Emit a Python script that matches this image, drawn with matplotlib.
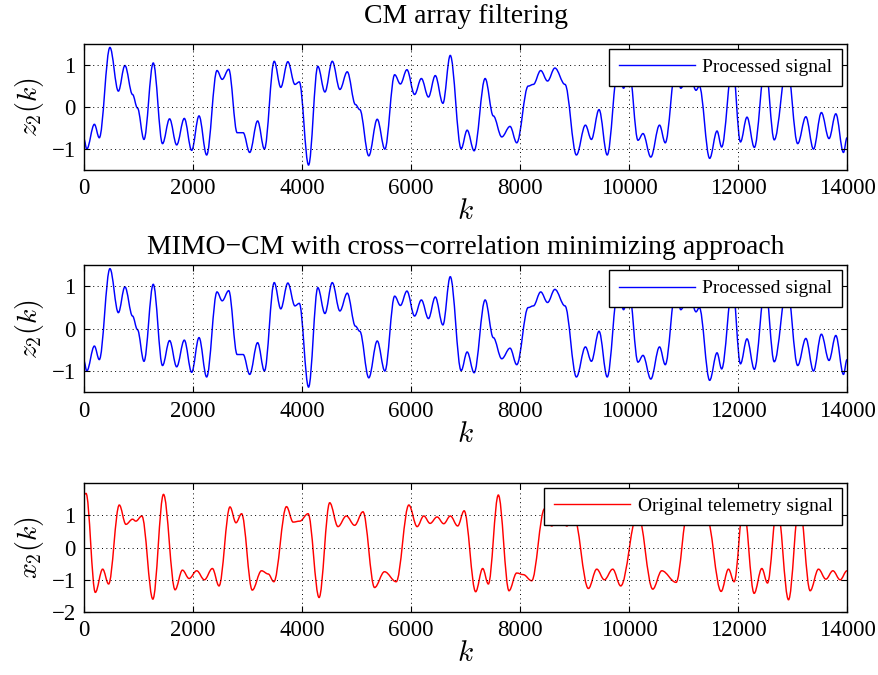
import numpy as np
import matplotlib
matplotlib.use("Agg")
import matplotlib.pyplot as plt
from matplotlib.path import Path
from matplotlib.patches import PathPatch
from matplotlib.lines import Line2D

plt.rcParams['font.family'] = ['Liberation Serif', 'DejaVu Serif']
plt.rcParams['mathtext.fontset'] = 'cm'
plt.rcParams['axes.unicode_minus'] = True

# values (extrema of the traces)
k_cm = [0, 50, 190, 280, 475, 630, 750, 890, 980, 1100,
        1270, 1440, 1570, 1700, 1840, 1975, 2110, 2250, 2440, 2535,
        2655, 2810, 2920, 3040, 3185, 3310, 3490, 3610, 3740, 3870,
        3950, 4120, 4290, 4420, 4555, 4695, 4830, 4980, 5060, 5225,
        5380, 5520, 5700, 5805, 5925, 6065, 6190, 6320, 6445, 6585,
        6720, 6920, 7030, 7158, 7360, 7510, 7665, 7817, 7940, 8150,
        8245, 8380, 8505, 8640, 8825, 9035, 9200, 9310, 9450, 9600,
        9800, 9900, 10000, 10165, 10257, 10400, 10560, 10665, 10860, 10950,
        11100, 11230, 11290, 11480, 11615, 11700, 11900, 12045, 12165, 12300,
        12500, 12665, 12900, 13095, 13245, 13385, 13530, 13670, 13795, 13935,
        14000]
z_cm = [-0.77, -1.0, -0.41, -0.73, 1.42, 0.38, 0.99, 0.30, -0.02, -0.77,
        1.05, -0.87, -0.28, -0.90, -0.27, -1.03, -0.21, -1.14, 0.87, 0.66,
        0.90, -0.61, -0.61, -1.08, -0.33, -1.0, 1.09, 0.47, 1.08, 0.54,
        0.60, -1.38, 0.97, 0.36, 1.09, 0.42, 0.84, 0.06, -0.06, -1.16,
        -0.29, -1.0, 0.77, 0.55, 0.89, 0.30, 0.68, 0.24, 0.75, 0.09,
        1.23, -0.99, -0.55, -1.04, 0.68, -0.21, -0.71, -0.46, -0.85, 0.50,
        0.54, 0.87, 0.62, 0.93, 0.54, -1.14, -0.43, -0.77, -0.06, -1.14,
        0.95, 0.45, 0.90, -0.79, -0.63, -1.19, -0.43, -0.85, 0.95, 0.45,
        0.85, 0.40, 0.50, -1.22, -0.57, -0.95, 1.0, -0.83, -0.24, -0.96,
        1.0, -0.78, 1.0, -0.87, -0.23, -1.0, -0.13, -0.75, -0.16, -1.08,
        -0.73]

# second panel reads the same as the first
k_mimo = k_cm
z_mimo = z_cm

k_x = [0, 37, 207, 342, 451, 647, 769, 890, 951, 1061,
       1263, 1458, 1671, 1806, 1928, 2068, 2208, 2355, 2477, 2678,
       2788, 2891, 3087, 3257, 3380, 3483, 3715, 3837, 3959, 4111,
       4313, 4508, 4660, 4813, 4965, 5118, 5331, 5514, 5728, 5960,
       6112, 6234, 6350, 6478, 6600, 6722, 6856, 6975, 7186, 7315,
       7419, 7602, 7798, 7939, 8060, 8214, 8450, 8580, 8720, 8860,
       8980, 9255, 9408, 9548, 9701, 9848, 10160, 10436, 10601, 10864,
       11080, 11250, 11420, 11690, 11825, 11929, 12100, 12296, 12437, 12541,
       12720, 12927, 13125, 13324, 13477, 13612, 13741, 13875, 14000]
x2 = [1.65, 1.68, -1.39, -0.67, -1.13, 1.32, 0.72, 0.88, 0.82, 0.98,
      -1.60, 1.65, -1.31, -0.70, -0.96, -0.72, -1.00, -0.65, -1.19, 1.26,
      0.77, 1.05, -1.32, -0.72, -0.82, -1.06, 1.27, 0.79, 0.82, 1.05,
      -1.55, 1.39, 0.65, 0.98, 0.69, 1.11, -1.24, -0.75, -1.06, 1.32,
      0.65, 0.98, 0.75, 0.95, 0.74, 0.98, 0.67, 1.14, -1.37, -0.65,
      -1.13, 1.63, -1.34, -0.79, -0.84, -1.03, 1.20, 0.67, 0.95, 0.67,
      1.05, -1.27, -0.67, -1.00, -0.67, -1.19, 1.10, -1.29, -0.72, -1.08,
      1.15, 0.80, 1.00, -1.36, -0.67, -1.06, 1.30, -1.42, -0.65, -1.10,
      1.30, -1.62, 1.40, -1.34, -0.67, -0.98, -0.72, -1.00, -0.72]

xticks = [0, 2000, 4000, 6000, 8000, 10000, 12000, 14000]


def smooth_trace(ax, ks, vs, color):
    # the read points are turning points: join them with bezier segments
    # that leave and arrive flat, drawn in data coordinates
    verts = [(ks[0], vs[0])]
    codes = [Path.MOVETO]
    for i in range(1, len(ks)):
        d = (ks[i] - ks[i - 1]) * 0.36
        verts += [(ks[i - 1] + d, vs[i - 1]), (ks[i] - d, vs[i]), (ks[i], vs[i])]
        codes += [Path.CURVE4] * 3
    ax.add_patch(PathPatch(Path(verts, codes), fill=False, edgecolor=color,
                           lw=1.05, clip_on=True))


def style(ax, yticks, ylim):
    ax.set_xlim(0, 14000)
    ax.set_ylim(*ylim)
    ax.set_xticks(xticks)
    ax.set_yticks(yticks)
    ax.set_yticklabels([str(t).replace('-', '\u2212') for t in yticks])
    ax.tick_params(direction='in', top=True, right=True, length=4,
                   width=0.8, labelsize=16.5, pad=6)
    ax.grid(True, linestyle=(0, (1, 3.5)), color='k', linewidth=0.7)
    for s in ax.spines.values():
        s.set_linewidth(1.0)
    ax.set_xlabel('$k$', fontsize=21, labelpad=0)


def add_legend(ax, color, text):
    h = Line2D([], [], color=color, lw=1.0)
    leg = ax.legend([h], [text], loc='upper right', fontsize=14,
                    handlelength=3.9, borderaxespad=0.25, fancybox=False,
                    framealpha=1, borderpad=0.5, handletextpad=0.4)
    leg.get_frame().set_edgecolor('k')
    leg.get_frame().set_linewidth(1.0)


fig = plt.figure(figsize=(8.79, 6.75), dpi=100)

ax1 = fig.add_axes([0.0956, 0.748, 0.868, 0.1867])
smooth_trace(ax1, k_cm, z_cm, '#0000ff')
style(ax1, [-1, 0, 1], (-1.5, 1.5))
ax1.set_ylabel('$z_2(k)$', fontsize=20, labelpad=4)
ax1.set_title('CM array filtering', fontsize=20, pad=15)
add_legend(ax1, '#0000ff', 'Processed signal')

ax2 = fig.add_axes([0.0956, 0.419, 0.868, 0.188])
smooth_trace(ax2, k_mimo, z_mimo, '#0000ff')
style(ax2, [-1, 0, 1], (-1.5, 1.5))
ax2.set_ylabel('$z_2(k)$', fontsize=20, labelpad=4)
ax2.set_title('MIMO\u2212CM with cross\u2212correlation minimizing approach',
              fontsize=20, pad=8)
add_legend(ax2, '#0000ff', 'Processed signal')

ax3 = fig.add_axes([0.0956, 0.0933, 0.868, 0.191])
smooth_trace(ax3, k_x, x2, '#ff0000')
style(ax3, [-2, -1, 0, 1], (-2, 2))
ax3.set_ylabel('$x_2(k)$', fontsize=20, labelpad=4)
add_legend(ax3, '#ff0000', 'Original telemetry signal')

fig.savefig('out.png', dpi=100)
